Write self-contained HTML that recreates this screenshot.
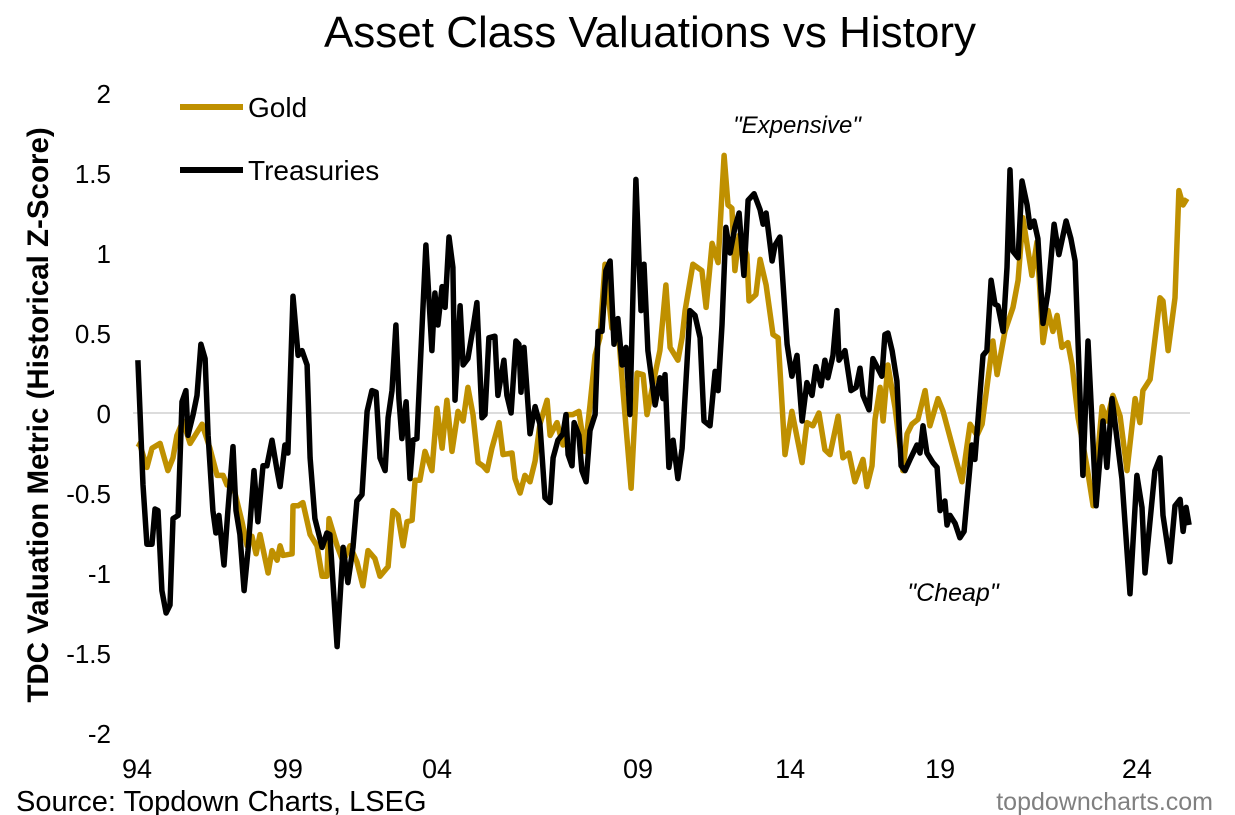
<!DOCTYPE html>
<html><head><meta charset="utf-8">
<style>
html,body{margin:0;padding:0;background:#fff;}
svg{display:block;font-family:"Liberation Sans",Arial,sans-serif;}
</style></head>
<body>
<svg id="chart" width="1235" height="815" viewBox="0 0 1235 815" xmlns="http://www.w3.org/2000/svg">
<text x="650" y="47" font-size="44" text-anchor="middle" fill="#000">Asset Class Valuations vs History</text>
<text transform="translate(48,415) rotate(-90)" font-size="29.5" font-weight="bold" text-anchor="middle">TDC Valuation Metric (Historical Z-Score)</text>
<line x1="133" y1="413" x2="1190" y2="413" stroke="#d0d0d0" stroke-width="1.5"/>
<g id="yticks"></g>
<g id="xticks"></g>
<g id="series"></g>
<g>
<line x1="180" y1="107" x2="243" y2="107" stroke="#bf9000" stroke-width="6"/>
<text x="248" y="117" font-size="28">Gold</text>
<line x1="180" y1="170" x2="243" y2="170" stroke="#000" stroke-width="6"/>
<text x="248" y="180" font-size="28">Treasuries</text>
</g>
<text x="797" y="133" font-size="24" font-style="italic" text-anchor="middle">"Expensive"</text>
<text x="953" y="601" font-size="25" font-style="italic" text-anchor="middle">"Cheap"</text>
<text x="16" y="811" font-size="29">Source: Topdown Charts, LSEG</text>
<text x="1213" y="810" font-size="25" fill="#808080" text-anchor="end">topdowncharts.com</text>
</svg>
<script>
const yTicks = [2, 1.5, 1, 0.5, 0, -0.5, -1, -1.5, -2];
const yTickLabels = ["2", "1.5", "1", "0.5", "0", "-0.5", "-1", "-1.5", "-2"];
const xTickLabels = ["94", "99", "04", "09", "14", "19", "24"];
const xTickPeriods = [0, 50.3, 100, 167, 217.7, 267.7, 333.3];

const tsyT = [0.3,2,3.3,5,6,7,8.3,9.7,11,12,13.7,15,16.3,17,18.7,20,21.3,22.7,23.7,25.3,26.3,27.3,29,30.3,32,33,34.3,35.7,37,39,40.3,42,43.3,45,46.7,47.7,49.3,50.3,52,53.7,55,56.7,57.7,59.3,61.7,63.3,64.3,66.7,68.7,70.3,72,73.3,75,76.7,78.3,79.7,81,82.7,83.7,85,86.3,87.3,88.3,89.7,91,92,93.3,95,96.3,98.3,99.3,100.3,101.7,102.7,104,105.3,106,107.7,108.7,110.3,112,113.3,115,116,117.3,119.3,120.3,122.3,123.3,124.7,126.3,127.3,128,129,131,132.7,134.3,136,137.7,138.7,140.3,142,143,143.7,145,145.7,147.3,148.3,149.7,151,152.7,153.7,155,156.3,157.7,159,160.3,161.7,163,164.3,166.3,168,169,170.3,172.7,174.3,175.3,176,177.3,178.7,180.3,181.7,183.3,184.3,186,187.7,189,191,192.7,193.7,195,196.3,197.7,199.3,200.7,202.3,203.7,205.7,207.7,208.7,209.7,211.7,212.7,214.3,216.7,218.3,220,221.7,223.3,225,226.3,228,229.3,230.3,232,233.3,234,235,236,238,239.7,241,242,244,245.3,248.3,249.3,250.3,251.7,253.3,254.7,256,257.7,260,261,262,263.3,265.3,266.7,267.7,269.3,270,271,272.7,274.3,275.7,277,278.3,279.3,280.3,282,283.3,284.7,286,287,288.7,290,291,292,293.7,295,296.7,297.7,299,300.3,302,303.7,305.7,307.3,309.7,311.3,312.7,313.7,315.3,317,319.7,322,323.3,325,328.3,331,333.3,335,336,339.3,341,342,344.3,346,347.7,348.7,349.7,350.7];
const tsyV = [0.33,-0.45,-0.82,-0.82,-0.6,-0.61,-1.11,-1.25,-1.2,-0.66,-0.64,0.07,0.14,-0.14,-0.01,0.11,0.43,0.34,-0.14,-0.61,-0.75,-0.64,-0.95,-0.61,-0.21,-0.61,-0.76,-1.11,-0.86,-0.36,-0.68,-0.33,-0.33,-0.17,-0.36,-0.46,-0.2,-0.25,0.73,0.36,0.39,0.3,-0.28,-0.66,-0.84,-0.75,-0.76,-1.46,-0.84,-1.06,-0.84,-0.55,-0.51,0.01,0.14,0.13,-0.28,-0.36,-0.03,0.14,0.55,0.09,-0.16,0.07,-0.41,-0.17,-0.16,0.53,1.05,0.39,0.75,0.55,0.79,0.66,1.1,0.91,0.08,0.67,0.3,0.34,0.53,0.69,-0.03,-0.01,0.47,0.48,0.11,0.33,0.11,0,0.45,0.43,0.13,0.41,-0.13,0.04,-0.07,-0.53,-0.56,-0.28,-0.17,-0.13,-0.01,-0.26,-0.33,-0.06,-0.14,-0.36,-0.43,-0.11,-0.01,0.51,0.51,0.89,0.95,0.43,0.59,0.3,0.41,-0.01,1.46,0.64,0.93,0.39,0.05,0.22,0.09,0.24,-0.34,-0.17,-0.41,-0.22,0.3,0.64,0.61,0.47,-0.05,-0.08,0.26,0.14,0.55,1.16,1.0,1.16,1.25,0.86,1.33,1.37,1.27,1.18,1.25,0.95,1.05,1.1,0.43,0.23,0.36,-0.05,0.19,0.11,0.29,0.17,0.33,0.22,0.36,0.64,0.33,0.36,0.39,0.14,0.16,0.28,0.11,0.02,0.34,0.23,0.49,0.5,0.39,0.2,-0.33,-0.36,-0.29,-0.2,-0.25,-0.08,-0.25,-0.31,-0.34,-0.61,-0.55,-0.7,-0.64,-0.69,-0.78,-0.74,-0.47,-0.2,-0.29,-0.05,0.36,0.39,0.83,0.68,0.67,0.51,0.91,1.52,1.01,0.97,1.45,1.3,1.16,1.2,1.09,0.56,0.76,1.18,0.99,1.2,1.09,0.95,0.43,-0.39,0.45,-0.58,-0.05,-0.34,0.09,-0.41,-1.13,-0.39,-0.59,-1.0,-0.36,-0.28,-0.64,-0.93,-0.58,-0.54,-0.74,-0.59,-0.7];

const goldT = [0,1,3.3,5,7.7,10.3,12,13.3,15.3,17.7,21.7,24.3,26.7,28.7,30,32,35,36.7,38.3,39.7,41,43.7,45,46.7,47.7,48.7,51.7,52,53.7,55.3,57.7,60,61.7,63.3,64,66.7,68.7,71,73.3,75.3,77,79.3,81,83.7,85.3,87,88.7,90,91.7,92.7,94.3,96,98.3,100,101.7,103.3,105,107,108.7,110.3,112,113.7,115.3,116.7,118.3,120.7,122,125,126,127.7,129.3,131,132.7,134.3,136.7,137.7,140,142,143.3,145.3,147.3,149.3,151,152.7,154.3,156,158.3,160.3,162,164.7,166.7,168.7,170,172,174.3,176.3,177.7,180.3,181.7,182.7,185.3,188.3,189.7,191.7,193.7,195.7,197,198.3,199.3,200.7,203.3,204,206.3,207.7,209.7,212,213.7,216,218.3,221.7,223.3,225.3,227.3,229.3,231,233.7,235.3,237.3,239.3,242,243.3,245,246,247.7,248.7,250.3,252.7,255.3,256.7,258.3,260.3,262.7,264.3,267,268.7,271.7,275,276.7,277.7,280,281.7,283.3,285.3,286.7,289.3,292,293.7,295.3,298.3,300,302,303.7,305.3,306.7,308.3,310.3,311.7,313.7,316.7,318.7,321.7,323.3,325.3,327.7,330,332.7,334.3,335.3,337.7,341,342,343.7,346,347.3,348.7,350];
const goldV = [-0.19,-0.2,-0.34,-0.22,-0.19,-0.36,-0.28,-0.14,-0.05,-0.19,-0.07,-0.22,-0.39,-0.39,-0.45,-0.45,-0.68,-0.83,-0.77,-0.88,-0.76,-1.0,-0.86,-0.92,-0.83,-0.89,-0.88,-0.58,-0.58,-0.56,-0.76,-0.83,-1.02,-1.02,-0.66,-0.83,-0.93,-0.83,-0.93,-1.08,-0.86,-0.91,-1.02,-0.96,-0.61,-0.64,-0.83,-0.68,-0.67,-0.42,-0.42,-0.24,-0.36,0.03,-0.22,0.08,-0.24,0.01,-0.05,0.16,-0.01,-0.31,-0.33,-0.36,-0.22,-0.06,-0.26,-0.25,-0.41,-0.5,-0.39,-0.43,-0.3,-0.07,0.08,-0.14,-0.06,-0.2,-0.01,-0.01,0.01,-0.24,0.05,0.36,0.47,0.93,0.53,0.55,0.14,-0.47,0.25,0.24,-0.01,0.18,0.39,0.8,0.41,0.33,0.47,0.64,0.93,0.89,0.66,1.06,0.94,1.61,1.3,1.28,0.89,1.11,0.99,0.7,0.74,0.96,0.8,0.49,0.47,-0.26,0.01,-0.31,-0.06,-0.08,0,-0.23,-0.26,-0.02,-0.28,-0.25,-0.43,-0.29,-0.46,-0.33,-0.04,0.16,-0.05,0.3,0.03,-0.36,-0.13,-0.07,-0.04,0.14,-0.08,0.09,0.01,-0.2,-0.43,-0.2,-0.07,-0.14,-0.07,0.16,0.45,0.24,0.51,0.66,0.83,1.22,0.86,1.07,0.44,0.64,0.51,0.61,0.41,0.44,0.3,-0.03,-0.34,-0.58,0.04,-0.05,0.11,-0.02,-0.36,0.09,-0.06,0.14,0.21,0.72,0.7,0.39,0.72,1.39,1.3,1.34];

const NS = "http://www.w3.org/2000/svg";
const X0 = 137, PX_PER_PERIOD = 3;
function xScale(t){ return X0 + t * PX_PER_PERIOD; }
function yScale(v){ return 413 - v * 160; }

const yg = document.getElementById('yticks');
yTicks.forEach((v, i) => {
  const t = document.createElementNS(NS, 'text');
  
  
  t.setAttribute('x', 111); t.setAttribute('y', yScale(v) + 10);
  t.setAttribute('font-size', '26'); t.setAttribute('text-anchor', 'end');
  t.textContent = yTickLabels[i];
  yg.appendChild(t);
});
const xg = document.getElementById('xticks');
xTickLabels.forEach((lab, i) => {
  const t = document.createElementNS(NS, 'text');
  
  
  t.setAttribute('x', xScale(xTickPeriods[i])); t.setAttribute('y', 778);
  t.setAttribute('font-size', '27'); t.setAttribute('text-anchor', 'middle');
  t.textContent = lab;
  xg.appendChild(t);
});
function drawLine(ts, vs, color, name){
  let d = '';
  ts.forEach((t, i) => { d += (i ? 'L' : 'M') + xScale(t).toFixed(1) + ',' + yScale(vs[i]).toFixed(1); });
  const p = document.createElementNS(NS, 'path');
  
  
  p.setAttribute('d', d); p.setAttribute('fill', 'none');
  p.setAttribute('stroke', color); p.setAttribute('stroke-width', '5.5');
  p.setAttribute('stroke-linejoin', 'round');
  document.getElementById('series').appendChild(p);
}
drawLine(goldT, goldV, '#bf9000', 'gold-line');
drawLine(tsyT, tsyV, '#000000', 'treasuries-line');
</script>
</body></html>
